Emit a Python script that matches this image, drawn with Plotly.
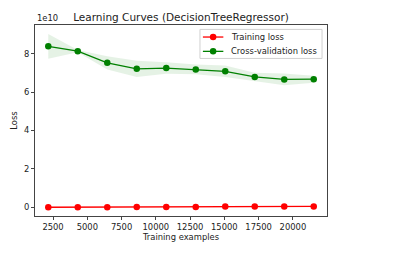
import plotly.graph_objects as go

train_sizes = [2152, 4304, 6456, 8608, 10760, 12912, 15064, 17216, 19368, 21520]
train_loss = [0.005e10, 0.008e10, 0.01e10, 0.012e10, 0.015e10, 0.018e10, 0.04e10, 0.045e10, 0.048e10, 0.05e10]
train_std = [0.002e10, 0.002e10, 0.003e10, 0.003e10, 0.003e10, 0.003e10, 0.004e10, 0.004e10, 0.004e10, 0.004e10]
cv_loss = [8.38e10, 8.13e10, 7.52e10, 7.21e10, 7.25e10, 7.18e10, 7.08e10, 6.79e10, 6.66e10, 6.67e10]
cv_std = [0.64e10, 0.06e10, 0.34e10, 0.42e10, 0.30e10, 0.25e10, 0.30e10, 0.22e10, 0.30e10, 0.18e10]
y_ticks = [0, 2e10, 4e10, 6e10, 8e10]
y_tick_labels = ["0", "2", "4", "6", "8"]
x_ticks = [2500, 5000, 7500, 10000, 12500, 15000, 17500, 20000]
x_tick_labels = [str(v) for v in x_ticks]
series_names = ["Training loss", "Cross-validation loss"]
series_colors = ["#ff0000", "#008000"]

font = "DejaVu Sans"
fs = 8.4
fig = go.Figure()

def band(y, s, color):
    up = [a + b for a, b in zip(y, s)]
    lo = [a - b for a, b in zip(y, s)]
    fig.add_trace(go.Scatter(x=train_sizes, y=up, mode="lines", line=dict(width=0),
                             showlegend=False, hoverinfo="skip"))
    fig.add_trace(go.Scatter(x=train_sizes, y=lo, mode="lines", line=dict(width=0),
                             fill="tonexty", fillcolor=color, showlegend=False, hoverinfo="skip"))

band(train_loss, train_std, "rgba(255,0,0,0.1)")
band(cv_loss, cv_std, "rgba(0,128,0,0.1)")

for name, vals, col in zip(series_names, [train_loss, cv_loss], series_colors):
    fig.add_trace(go.Scatter(x=train_sizes, y=vals, mode="lines+markers", name=name, showlegend=False,
                             line=dict(color=col, width=1.3), marker=dict(color=col, size=6.5)))

axis_common = dict(showgrid=False, zeroline=False, showline=True, mirror=True,
                   linecolor="#444", linewidth=1, ticks="outside", ticklen=3,
                   tickcolor="#444", tickfont=dict(family=font, size=fs, color="#222"))

fig.update_xaxes(range=[1184, 22488], tickvals=x_ticks, ticktext=x_tick_labels,
                 title=dict(text="Training examples", font=dict(family=font, size=fs, color="#222"), standoff=2),
                 **axis_common)
fig.update_yaxes(range=[-0.45e10, 9.49e10], tickvals=y_ticks, ticktext=y_tick_labels,
                 title=dict(text="Loss", font=dict(family=font, size=fs, color="#222"), standoff=5),
                 **axis_common)

# Custom compact legend (matplotlib-style)
shapes = [dict(type="rect", xref="paper", yref="paper", x0=0.565, x1=0.983, y0=0.825, y1=0.977,
               fillcolor="rgba(255,255,255,0.8)", line=dict(color="#d0d0d0", width=1), layer="above")]
annotations = [dict(text="1e10", xref="paper", yref="paper", x=0, y=1, xanchor="left",
                    yanchor="bottom", showarrow=False, font=dict(family=font, size=fs, color="#222"))]
for i, (name, col) in enumerate(zip(series_names, series_colors)):
    yc = 0.937 - i * 0.075
    shapes.append(dict(type="line", xref="paper", yref="paper", x0=0.575, x1=0.645, y0=yc, y1=yc,
                       line=dict(color=col, width=1.3), layer="above"))
    shapes.append(dict(type="circle", xref="paper", yref="paper", x0=0.610 - 0.0111, x1=0.610 + 0.0111,
                       y0=yc - 0.017, y1=yc + 0.017, fillcolor=col, line=dict(width=0), layer="above"))
    annotations.append(dict(text=name, xref="paper", yref="paper", x=0.664, y=yc, xanchor="left",
                            yanchor="middle", showarrow=False, font=dict(family=font, size=fs, color="#222")))

fig.update_layout(
    width=416, height=255,
    margin=dict(l=35, r=89, t=25, b=39),
    paper_bgcolor="white", plot_bgcolor="white",
    title=dict(text="Learning Curves (DecisionTreeRegressor)", x=(35 + 327) / 2 / 416, xanchor="center",
               y=1 - 17 / 255, yanchor="middle", font=dict(family=font, size=10.5, color="#222")),
    showlegend=False,
    shapes=shapes,
    annotations=annotations,
)

fig.write_html("out.html")
